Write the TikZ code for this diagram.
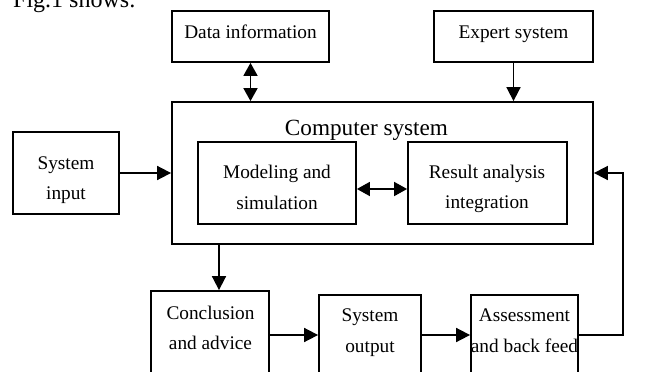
\documentclass[tikz,border=0pt]{standalone}
\usepackage{fontspec}
\setmainfont{Liberation Serif}
\usetikzlibrary{arrows.meta}
\tikzset{
  box/.style={draw, line width=1.8pt, rectangle, inner sep=0pt},
  txt/.style={anchor=base, inner sep=0pt, font=\fontsize{19.3}{23}\selectfont},
  ttl/.style={anchor=base, inner sep=0pt, font=\fontsize{23.2}{28}\selectfont},
  conn/.style={line width=1.7pt},
  arr/.style={conn, -{Triangle[length=14pt,width=14pt]}},
  dbl/.style={conn, {Triangle[length=13pt,width=14pt]}-{Triangle[length=13pt,width=14pt]}},
}
\begin{document}
\begin{tikzpicture}[x=1pt,y=-1pt]
\clip (0,0) rectangle (645,372);
\fill[white] (0,0) rectangle (645,372);
% caption fragment (cut at the top edge, as in the reference)
\node[anchor=base west, inner sep=0pt, font=\fontsize{24}{28}\selectfont] (fig) at (13,7.5) {Fig.1 shows:};
% boxes
\node[box, minimum width=157pt, minimum height=51pt] (data) at (250.5,36.5) {};
\node[box, minimum width=159pt, minimum height=51pt] (expert) at (513.5,36.5) {};
\node[box, minimum width=421pt, minimum height=142pt] (comp) at (382.5,173) {};
\node[box, minimum width=106pt, minimum height=82pt] (sysin) at (66,173) {};
\node[box, minimum width=158pt, minimum height=82pt] (mod) at (277,183) {};
\node[box, minimum width=159pt, minimum height=82pt] (res) at (487.5,183) {};
\node[box, minimum width=118pt, minimum height=88pt] (conc) at (210,335) {};
\node[box, minimum width=102pt, minimum height=80pt] (out) at (370,335) {};
\node[box, minimum width=107pt, minimum height=80pt] (ass) at (524.5,335) {};
% texts
\node[txt] (tdata) at (250.5,38) {Data information};
\node[txt] (texp) at (513.5,38.5) {Expert system};
\node[ttl] (tcomp) at (366.5,135) {Computer system};
\node[txt] (tmod1) at (277,178) {Modeling and};
\node[txt] (tmod2) at (277,209) {simulation};
\node[txt] (tres1) at (487,178) {Result analysis};
\node[txt] (tres2) at (487,208.5) {integration};
\node[txt] (tin1) at (66,169) {System};
\node[txt] (tin2) at (66,199.5) {input};
\node[txt] (tcon1) at (210.5,319) {Conclusion};
\node[txt] (tcon2) at (210.5,349.5) {and advice};
\node[txt] (tout1) at (370,321) {System};
\node[txt] (tout2) at (370,352) {output};
\node[txt] (tass1) at (524.5,321.5) {Assessment};
\node[txt] (tass2) at (524.5,352) {and back feed};
% connectors
\draw[dbl] (data.south) -- (data.south |- comp.north);
\draw[arr] (expert.south) -- (expert.south |- comp.north);
\draw[arr] (sysin.east) -- (sysin.east -| comp.west);
\draw[dbl] ([yshift=-6pt]mod.east) -- ([yshift=-6pt]res.west);
\coordinate (cx) at (219,0);
\draw[arr] (comp.south -| cx) -- (conc.north -| cx);
\draw[arr] (conc.east) -- (out.west);
\draw[arr] (out.east) -- (ass.west);
\draw[arr] (ass.east) -- ++(44,0) |- (comp.east);
\end{tikzpicture}
\end{document}
